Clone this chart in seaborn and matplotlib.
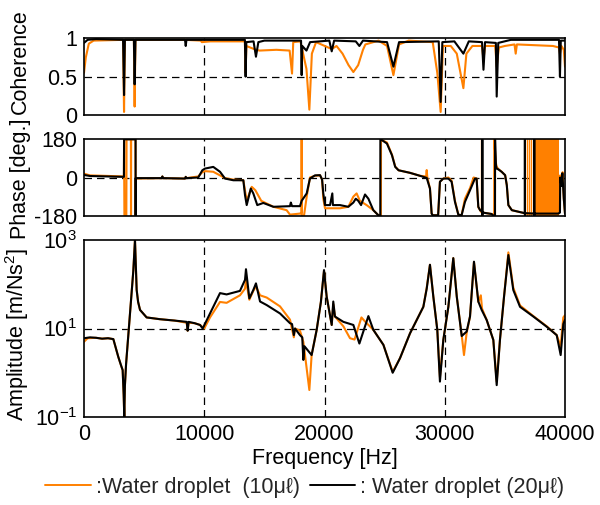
import numpy as np
import pandas as pd
import matplotlib
matplotlib.use("Agg")
import matplotlib.pyplot as plt
import seaborn as sns

# ---------------- data ----------------
# Coherence
coh_black_f = [0, 300, 1000, 3250, 3330, 3400, 4150, 4210, 4280, 8400, 8460, 8520, 13380, 13440, 13500,
               14100, 14300, 14500, 15000, 18050, 18100, 18150, 18500, 18800, 20400, 20600, 20800, 22600,
               22900, 23200, 25200, 25730, 26200, 29500, 29660, 29800, 30800, 31550, 32000, 33100, 33220,
               33350, 34250, 34320, 34450, 35500, 39500, 39580, 39650, 40000]
coh_black_v = [0.94, 0.98, 0.99, 0.98, 0.26, 0.98, 0.98, 0.40, 0.98, 0.98, 0.90, 0.98, 0.98, 0.50, 0.95,
               0.96, 0.76, 0.95, 0.97, 0.97, 0.52, 0.90, 0.84, 0.95, 0.97, 0.83, 0.97, 0.96,
               0.90, 0.97, 0.95, 0.63, 0.95, 0.96, 0.17, 0.95, 0.96, 0.80, 0.96, 0.95, 0.59,
               0.95, 0.94, 0.24, 0.94, 0.98, 0.98, 0.50, 0.97, 0.97]
coh_orange_f = [0, 150, 400, 800, 3250, 3330, 3400, 4150, 4210, 4280, 8400, 9700, 9800, 10500, 12300,
                13380, 13440, 13500, 14300, 14600, 16000, 17100, 17300, 17400, 18000, 18500, 18740, 18950,
                19300, 20600, 21000, 21500, 22000, 22400, 22800, 23200, 23400, 24500, 25200, 25730, 26200,
                27000, 29000, 29380, 29660, 29850, 30500, 31000, 31550, 31800, 32300, 33100, 33220, 33350,
                34200, 34320, 34500, 35000, 35800, 35900, 36000, 39000, 39500, 39580, 39700, 39900, 40000]
coh_orange_v = [0.55, 0.75, 0.93, 0.97, 0.98, 0.04, 0.98, 0.98, 0.11, 0.98, 0.98, 0.97, 0.95, 0.96, 0.96,
                0.96, 0.55, 0.90, 0.85, 0.84, 0.85, 0.84, 0.54, 0.95, 0.96, 0.60, 0.07, 0.80,
                0.95, 0.86, 0.90, 0.80, 0.65, 0.56, 0.65, 0.85, 0.92, 0.97, 0.90, 0.52, 0.92,
                0.97, 0.95, 0.55, 0.04, 0.90, 0.90, 0.80, 0.35, 0.80, 0.90, 0.90, 0.72, 0.90,
                0.90, 0.63, 0.88, 0.90, 0.92, 0.80, 0.92, 0.90, 0.88, 0.80, 0.90, 0.85, 0.63]

# Phase [deg]
ph_black_f = [0, 500, 3320, 3335, 4290, 4295, 4300, 6480, 6520, 6560, 8400, 8460, 8520, 9500, 9840, 10060,
              10750, 11310, 11730, 12420, 13250, 13390, 13530, 13870, 14080, 14410, 14910, 15750, 17130,
              17200, 17300, 17960, 18100, 18520, 18790, 19210, 19630, 19800, 19900, 20040, 20460, 20650,
              20700, 21290, 21980, 22400, 22600, 22810, 23040, 23370, 23650, 24060, 24480, 24640, 24645,
              24780, 25190, 25610, 25880, 26160, 27110, 27940, 28500, 28770, 28910, 29000, 29450, 29600,
              29880, 30300, 30570, 30850, 31130, 31400, 31680, 32100, 32510, 32650, 32790, 32950, 33120,
              33125, 33130, 33135, 33900, 34000, 34180, 34185, 34250, 34320, 34460, 34730, 35020, 35160,
              35290, 35580, 36410, 36660, 36665, 36670, 36675, 37440, 37445, 37450, 37455, 39450, 39580,
              39600, 39700, 39780, 39900, 40000]
ph_black_v = [12, 7, 3, 180, 180, -180, -3, -3, 5, -3, -5, 3, -3, 0, 34, 42,
              50, 27, -5, -13, -13, -83, -130, -52, -75, -130, -120, -138, -135,
              -118, -135, -135, -110, -75, -5, 10, 11, -10, -75, -130, -130, -75,
              -130, -130, -138, -118, -100, -110, -130, -80, -100, -154, -178, -180, 178,
              176, 160, 105, 50, 34, 22, 8, -2, -52, -170, -178, -178, -20,
              -5, -5, -20, -115, -175, -178, -115, -60, -5, -5, -138, -155, -160,
              180, -180, -165, -172, -178, -180, 180, 60, 42, 38, 27, 11, -36,
              -130, -154, -165, -168, 180, -180, -168, -170, 180, -180, -170, -170, -165,
              0, -40, 20, -100, -170]
ph_orange_f = [0, 500, 3320, 3330, 3360, 3520, 3540, 3900, 3910, 3920, 4280, 4290, 4300, 6480, 6520, 6560,
               8400, 8460, 8520, 9500, 9840, 10060, 10750, 11310, 11730, 12420, 13250, 13530, 13950, 14250,
               14740, 15750, 16850, 17130, 17960, 18095, 18100, 18105, 18300, 18520, 18790, 19210, 19630,
               19800, 19900, 20040, 21290, 21980, 22400, 22670, 22950, 23500, 24060, 24480, 24690, 24700,
               24780, 25190, 25610, 25880, 26160, 27110, 27940, 28450, 28500, 28550, 28770, 28910, 29000,
               29450, 29600, 29880, 30300, 30570, 30850, 31130, 31400, 31680, 32100, 32400, 32650, 32790,
               33000, 33090, 33095, 33100, 33105, 33900, 34110, 34115, 34250, 34320, 34460, 34730, 35020,
               35160, 35290, 35580, 36410, 36660, 39450, 39500, 39600, 39700, 39800, 39900, 40000]
ph_orange_v = [18, 10, 5, 180, -180, -180, 180, 180, -180, 180, 180, -180, -5, -3, 5, -3,
               -5, 3, -3, 5, 25, 30, 27, 10, -3, -10, -13, -110, -44, -60,
               -110, -138, -154, -175, -170, -165, 180, -180, -178, -90, 0, 8, 10,
               -10, -100, -145, -145, -138, -90, -75, -110, -130, -154, -178, -180, 178,
               176, 165, 108, 52, 34, 22, 8, 5, 35, 0, -52, -170, -178,
               -178, -20, -5, 0, -15, -110, -175, -178, -100, -50, 0, -5, -140,
               -160, -165, 180, -180, -165, -172, -178, 180, 70, 50, 40, 27, 11,
               -36, -130, -154, -165, -170, -170, -150, 10, -40, 25, -100, -170]
# dense phase wrapping of the orange curve at high frequency
ph_orange_wrap_lines = [36800, 37000, 37200]
ph_orange_wrap_band = [37450, 39500]

# Amplitude [m/Ns^2]
amp_black_f = [0, 500, 1000, 1500, 2000, 2440, 2850, 3100, 3215, 3300, 3350, 3400, 3500, 3700, 3900, 4100,
               4240, 4300, 4380, 4500, 4660, 5210, 6320, 7500, 8540, 8620, 8700, 9200, 9650, 9870, 10480,
               11310, 11860, 12970, 13390, 13470, 13750, 14080, 14300, 14640, 15190, 16300, 17130, 17300,
               17450, 17550, 17960, 18150, 18240, 18330, 18930, 19350, 19700, 19960, 20180, 20600, 20730,
               20870, 21570, 22400, 22900, 23650, 24060, 24900, 25670, 26280, 27110, 28220, 28500, 28770,
               29050, 29380, 29600, 29880, 30300, 30710, 31000, 31410, 31820, 32100, 32430, 32790, 33070,
               33490, 34040, 34320, 34590, 34930, 35290, 35700, 36260, 37370, 38480, 39310, 39640, 39860,
               40000]
amp_black_log = [0.78, 0.80, 0.79, 0.77, 0.78, 0.76, 0.36, 0.15, 0.06, -0.5, -1.0, -0.3, 0.2, 0.9, 1.6, 2.3,
                 3.0, 2.5, 1.87, 1.6, 1.42, 1.25, 1.21, 1.18, 1.15, 0.95, 1.15, 1.12, 1.08, 1.0, 1.34,
                 1.80, 1.77, 1.85, 2.10, 2.34, 1.68, 1.87, 2.02, 1.61, 1.53, 1.34, 1.12, 1.10,
                 0.85, 1.0, 0.85, 0.8, 0.29, 0.6, 0.40, 0.97, 1.6, 2.32, 1.72, 1.08, 1.61,
                 1.27, 1.15, 1.08, 0.66, 1.28, 0.97, 0.63, 0.0, 0.33, 0.89, 1.49, 1.90, 2.44,
                 1.72, 0.97, -0.20, 0.74, 1.49, 2.59, 1.72, 0.83, 0.93, 1.27, 2.51, 1.61, 1.42,
                 1.19, 0.74, -0.28, 0.74, 1.72, 2.66, 1.87, 1.49, 1.27, 1.04, 0.85, 0.40, 1.1,
                 1.2]
amp_orange_f = [0, 300, 1000, 1500, 2000, 2440, 2850, 3100, 3215, 3300, 3350, 3400, 3500, 3700, 3900, 4100,
                4240, 4300, 4380, 4500, 4660, 5210, 6320, 7500, 8540, 8620, 8700, 9200, 9650, 10000, 10480,
                11310, 11860, 12970, 13390, 13470, 13750, 14080, 14300, 14640, 15190, 16300, 17130, 17450,
                17550, 17960, 18240, 18740, 18930, 19350, 19700, 19960, 20180, 20600, 20730, 20870, 21570,
                22120, 22500, 23070, 23400, 24060, 24900, 25670, 26280, 27110, 28220, 28500, 28770, 29050,
                29380, 29600, 29880, 30300, 30710, 31000, 31410, 31600, 31820, 32100, 32430, 32790, 33000,
                33100, 33490, 34040, 34320, 34590, 34930, 35290, 35700, 36260, 37370, 38480, 39310, 39640,
                39860, 40000]
amp_orange_log = [0.70, 0.78, 0.79, 0.77, 0.78, 0.76, 0.36, 0.15, 0.06, -0.5, -1.0, -0.3, 0.2, 0.9, 1.6, 2.3,
                  3.0, 2.5, 1.87, 1.6, 1.42, 1.25, 1.21, 1.18, 1.13, 0.95, 1.13, 1.12, 1.08, 1.0, 1.25,
                  1.60, 1.58, 1.75, 1.90, 2.10, 1.65, 1.85, 1.95, 1.75, 1.70, 1.50, 1.20, 0.80,
                  1.0, 0.95, 0.70, -0.39, 0.40, 0.97, 1.6, 2.30, 1.72, 1.08, 1.55, 1.27, 1.05,
                  0.78, 0.75, 1.25, 1.15, 0.97, 0.63, 0.02, 0.33, 0.89, 1.49, 1.92, 2.44, 1.72,
                  0.97, -0.10, 0.74, 1.49, 2.59, 1.72, 0.85, 0.40, 0.90, 1.27, 2.50, 1.60, 1.75,
                  1.45, 1.19, 0.74, -0.20, 0.74, 1.72, 2.72, 1.92, 1.52, 1.28, 1.05, 0.85, 0.60,
                  1.25, 1.30]

freq_ticks = [0, 10000, 20000, 30000, 40000]
legend_labels = [":Water droplet  (10\u03bc\u2113)", ": Water droplet (20\u03bc\u2113)"]
ylabels = ["Coherence", "Phase [deg.]", "Amplitude [m/Ns$^2$]"]

ORANGE = "#FF8000"
BLACK = "#000000"

# ---------------- style ----------------
sns.set_theme(style="white")
plt.rcParams["font.family"] = ["Liberation Sans", "DejaVu Sans"]
plt.rcParams["mathtext.fontset"] = "custom"
plt.rcParams["mathtext.rm"] = "Liberation Sans"
plt.rcParams["mathtext.it"] = "Liberation Sans:italic"
plt.rcParams["mathtext.bf"] = "Liberation Sans:bold"

FS = 15.5

fig = plt.figure(figsize=(6.0, 5.05), dpi=100)
L, R = 84 / 600, 565 / 600
def box(top, bottom):
    return [L, 1 - bottom / 505, R - L, (bottom - top) / 505]

ax_c = fig.add_axes(box(38.3, 115))
ax_p = fig.add_axes(box(139.3, 215.7))
ax_a = fig.add_axes(box(240, 417))

def df(f, v):
    return pd.DataFrame({"f": f, "v": v})

lw = 1.5
# coherence
sns.lineplot(data=df(coh_orange_f, coh_orange_v), x="f", y="v", ax=ax_c, color=ORANGE, lw=lw, estimator=None)
sns.lineplot(data=df(coh_black_f, coh_black_v), x="f", y="v", ax=ax_c, color=BLACK, lw=lw, estimator=None)
# phase
ax_p.axvspan(ph_orange_wrap_band[0], ph_orange_wrap_band[1], color=ORANGE, lw=0, zorder=1.5)
ax_p.vlines(ph_orange_wrap_lines, -180, 180, color=ORANGE, lw=1.0, zorder=1.5)
sns.lineplot(data=df(ph_orange_f, ph_orange_v), x="f", y="v", ax=ax_p, color=ORANGE, lw=lw, estimator=None)
sns.lineplot(data=df(ph_black_f, ph_black_v), x="f", y="v", ax=ax_p, color=BLACK, lw=lw, estimator=None)
# amplitude
sns.lineplot(data=df(amp_orange_f, 10 ** np.array(amp_orange_log)), x="f", y="v", ax=ax_a, color=ORANGE, lw=lw, estimator=None)
sns.lineplot(data=df(amp_black_f, 10 ** np.array(amp_black_log)), x="f", y="v", ax=ax_a, color=BLACK, lw=lw, estimator=None)

ax_a.set_yscale("log")

settings = [
    (ax_c, (0, 1), [0, 0.5, 1], ["0", "0.5", "1"], 0.5, 0.69),
    (ax_p, (-180, 180), [-180, 0, 180], ["-180", "0", "180"], 0, 0.49),
    (ax_a, (0.1, 1000), [0.1, 10, 1000], ["10$^{-1}$", "10$^{1}$", "10$^{3}$"], 10, 0.465),
]
for (ax, ylim, yt, ytl, ymid, ylab_pos), lab in zip(settings, ylabels):
    ax.set_xlim(0, 40000)
    ax.set_ylim(*ylim)
    ax.set_yticks(yt)
    ax.set_yticklabels(ytl)
    ax.minorticks_off()
    ax.set_xticks(freq_ticks)
    ax.tick_params(axis="both", length=0, labelsize=FS, pad=5, colors="black")
    for xv in freq_ticks[1:-1]:
        ax.axvline(xv, color="black", lw=0.9, ls=(0, (6, 4)), zorder=1)
    ax.axhline(ymid, color="black", lw=0.9, ls=(0, (6, 4)), zorder=1)
    for s in ax.spines.values():
        s.set_color("black")
        s.set_linewidth(1.2)
    ax.set_ylabel(lab, fontsize=FS, color="black")
    ax.yaxis.set_label_coords(-0.11, ylab_pos)
    ax.set_xlabel("")

ax_c.set_xticklabels([])
ax_p.set_xticklabels([])
ax_a.set_xticklabels([str(t) for t in freq_ticks])
ax_a.set_xlabel("Frequency [Hz]", fontsize=FS, color="black", labelpad=2)

from matplotlib.lines import Line2D
handles = [Line2D([], [], color=ORANGE, lw=1.4), Line2D([], [], color=BLACK, lw=1.4)]
fig.legend(handles, legend_labels, loc="center", bbox_to_anchor=(0.508, 1 - 487 / 505), ncol=2,
           frameon=False, fontsize=15.5, handlelength=2.1, handletextpad=0.25, columnspacing=0.45)

fig.savefig("out.png", dpi=100)
